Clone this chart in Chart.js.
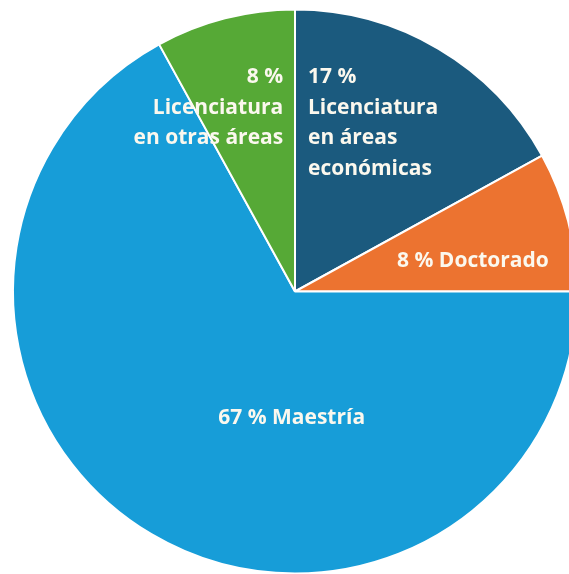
<!DOCTYPE html>
<html lang="es">
<head>
<meta charset="utf-8">
<title>Nivel de estudios</title>
<script src="https://cdn.jsdelivr.net/npm/chart.js@4.4.1/dist/chart.umd.min.js"></script>
<style>
  html, body { margin: 0; padding: 0; background: #ffffff; overflow: hidden; }
  #wrap { position: absolute; left: 0; top: 0; width: 590px; height: 583px; }
</style>
</head>
<body>
<div id="wrap"><canvas id="pieChart" width="590" height="583"></canvas></div>
<script>
// slices, clockwise from 12 o'clock
const categories = ['Licenciatura en áreas económicas', 'Doctorado', 'Maestría', 'Licenciatura en otras áreas'];
const shares = [17, 8, 67, 8];
const sliceColors = ['#1b5a7e', '#ec7330', '#179dd8', '#56a936'];

// text under the percentage for each slice (empty = name goes on the same line)
const labelLines = [
  ['Licenciatura', 'en áreas', 'económicas'],
  [],
  [],
  ['Licenciatura', 'en otras áreas']
];

// label anchor, as offsets from the pie centre in units of the radius
const labelPlacement = [
  { dx: 0.046, dy: -0.739, align: 'left' },
  { dx: 0.631, dy: -0.087, align: 'center' },
  { dx: -0.012, dy: 0.470, align: 'center' },
  { dx: -0.042, dy: -0.739, align: 'right' }
];

const LINE_HEIGHT = 30.6;

const sliceLabels = {
  id: 'sliceLabels',
  afterDatasetsDraw(chart) {
    const ctx = chart.ctx;
    const arcs = chart.getDatasetMeta(0).data;
    ctx.save();
    ctx.fillStyle = '#fbf8ee';
    ctx.font = 'bold 21px "Open Sans", sans-serif';
    ctx.textBaseline = 'alphabetic';
    arcs.forEach((arc, i) => {
      const p = labelPlacement[i];
      const r = arc.outerRadius;
      const x = arc.x + p.dx * r;
      const y = arc.y + p.dy * r;
      const pct = shares[i] + ' %';
      const lines = labelLines[i].length ? [pct].concat(labelLines[i]) : [pct + ' ' + categories[i]];
      ctx.textAlign = p.align;
      lines.forEach((txt, k) => ctx.fillText(txt, x, y + k * LINE_HEIGHT));
    });
    ctx.restore();
  }
};

new Chart(document.getElementById('pieChart'), {
  type: 'pie',
  data: {
    labels: categories,
    datasets: [{
      data: shares,
      backgroundColor: sliceColors,
      borderColor: '#ffffff',
      borderWidth: 2,
      radius: 282
    }]
  },
  options: {
    responsive: false,
    devicePixelRatio: 1,
    animation: false,
    layout: { padding: 0 },
    plugins: {
      legend: { display: false },
      tooltip: { enabled: false }
    }
  },
  plugins: [sliceLabels]
});
</script>
</body>
</html>
